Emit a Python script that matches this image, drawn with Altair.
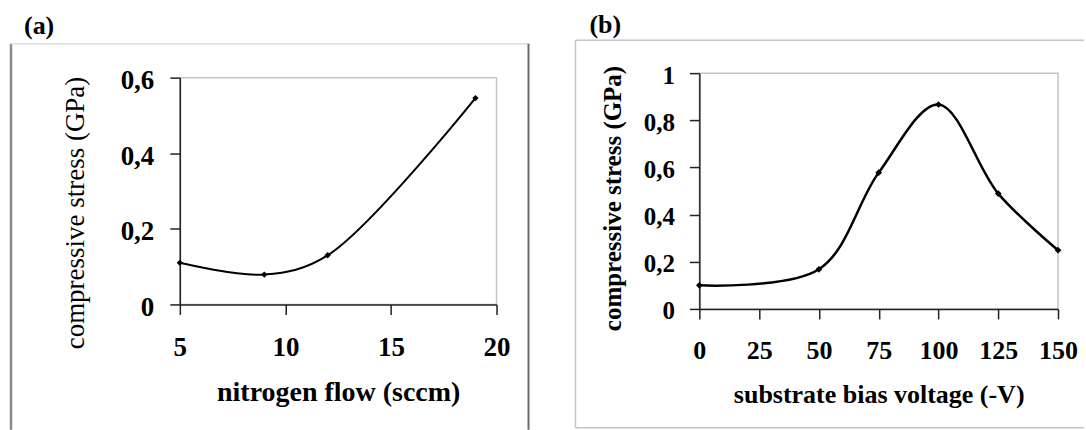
import altair as alt
import pandas as pd

# ---- data ----
flow = [5, 9, 12, 19]
stress_a = [0.110, 0.079, 0.130, 0.546]
bias = [0, 50, 75, 100, 125, 150]
stress_b = [0.100, 0.168, 0.578, 0.867, 0.489, 0.249]

xticks_a = [5, 10, 15, 20]
yticks_a = [0, 0.2, 0.4, 0.6]
xticks_b = [0, 25, 50, 75, 100, 125, 150]
yticks_b = [0, 0.2, 0.4, 0.6, 0.8, 1.0]

SERIF = "Liberation Serif"
WA, HA = 317, 227
WB, HB = 359, 236

dfa = pd.DataFrame({"x": flow, "y": stress_a})
dfb = pd.DataFrame({"x": bias, "y": stress_b})
one = pd.DataFrame({"k": [0]})


def vrule(x, y, y2, color, w):
    return alt.Chart(one).mark_rule(color=color, strokeWidth=w).encode(
        x=alt.value(x), y=alt.value(y), y2=alt.value(y2))


def hrule(y, x, x2, color, w):
    return alt.Chart(one).mark_rule(color=color, strokeWidth=w).encode(
        y=alt.value(y), x=alt.value(x), x2=alt.value(x2))


def label(txt, x, y):
    return alt.Chart(one).mark_text(
        text=txt, font=SERIF, fontWeight="bold", fontSize=26,
        align="left", baseline="top", color="black").encode(
        x=alt.value(x), y=alt.value(y))


common_axis = dict(grid=False, domainColor="#222", domainWidth=1.5,
                   tickColor="#222", tickWidth=1.5, tickSize=10,
                   labelFont=SERIF, labelFontWeight="bold", labelColor="black",
                   labelFlush=False, labelOverlap=False,
                   titleFont=SERIF, titleColor="black", titleAlign="center",
                   titleBaseline="alphabetic")

COMMA = "replace(format(datum.value, '.1~f'), '.', ',')"

# ---- panel (a) ----
xa = alt.X("x:Q", scale=alt.Scale(domain=[5, 20], nice=False, zero=False),
           axis=alt.Axis(values=xticks_a, title="nitrogen flow (sccm)",
                         labelFontSize=27, labelPadding=20,
                         titleFontSize=28, titleFontWeight="bold",
                         titleX=WA / 2, titleY=96, **common_axis))
ya = alt.Y("y:Q", scale=alt.Scale(domain=[0, 0.6], nice=False),
           axis=alt.Axis(values=yticks_a, title="compressive stress (GPa)",
                         labelExpr=COMMA,
                         labelFontSize=27, labelPadding=16, labelOffset=3,
                         titleFontSize=27, titleFontWeight="normal",
                         titleAngle=270, titleX=-96, titleY=135,
                         **common_axis))

line_a = alt.Chart(dfa).mark_line(color="black", strokeWidth=2,
                                  interpolate="catmull-rom").encode(x=xa, y=ya)
pts_a = alt.Chart(dfa).mark_point(shape="diamond", filled=True, size=40,
                                  color="black", opacity=1).encode(x="x:Q", y="y:Q")

left = alt.layer(
    vrule(-178.5, 0, 10, "white", 1),              # left anchor
    vrule(-169, -34, 352.5, "#8a8a8a", 2.5),        # frame left
    hrule(-34, -169, 349, "#dedede", 1.5),          # frame top
    vrule(349, -34, 352.5, "#6a6a6a", 2),           # frame right
    label("(a)", -156, -64.5),
    line_a, pts_a,
).properties(width=WA, height=HA)

# ---- panel (b) ----
xb = alt.X("x:Q", scale=alt.Scale(domain=[0, 150], nice=False, zero=False),
           axis=alt.Axis(values=xticks_b, title="substrate bias voltage (-V)",
                         labelFontSize=26, labelPadding=19,
                         titleFontSize=26, titleFontWeight="bold",
                         titleX=WB / 2, titleY=94, **common_axis))
yb = alt.Y("y:Q", scale=alt.Scale(domain=[0, 1], nice=False),
           axis=alt.Axis(values=yticks_b, title="compressive stress (GPa)",
                         labelExpr=COMMA,
                         labelFontSize=25, labelPadding=15, labelOffset=2,
                         titleFontSize=25, titleFontWeight="bold",
                         titleAngle=270, titleX=-79, titleY=125,
                         **common_axis))

line_b = alt.Chart(dfb).mark_line(color="black", strokeWidth=2.5,
                                  interpolate="catmull-rom").encode(x=xb, y=yb)
pts_b = alt.Chart(dfb).mark_point(shape="diamond", filled=True, size=45,
                                  color="black", opacity=1).encode(x="x:Q", y="y:Q")

right = alt.layer(
    hrule(-71.5, 0, 10, "white", 1),                # top anchor
    vrule(-124, -33, 355, "#c4c4c4", 1.5),          # frame left
    hrule(-33, -124, 385, "#c4c4c4", 1.5),          # frame top
    hrule(355, -124, 385, "#c4c4c4", 1.5),          # frame bottom
    label("(b)", -110, -61.5),
    line_b, pts_b,
).properties(width=WB, height=HB)

chart = alt.HConcatChart(
    hconcat=[left, right], spacing=203, bounds="flush", center=True,
).properties(padding=0).configure_view(stroke="#c4c4c4", strokeWidth=1.5)

chart.save("out.html", embed_options={"renderer": "svg", "actions": False})
